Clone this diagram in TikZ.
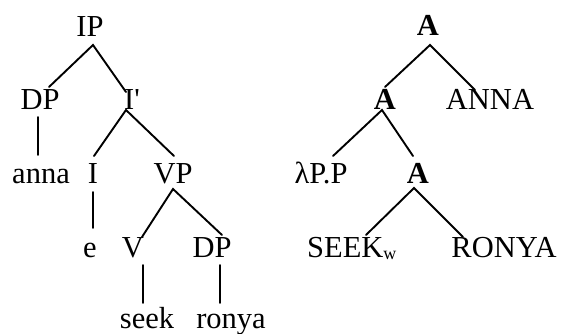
\documentclass[tikz,border=0pt]{standalone}
\usepackage{fontspec}
\newfontfamily\lsr{Liberation Serif}
\usetikzlibrary{calc}
\tikzset{
  lab/.style={inner sep=0pt, anchor=base, font=\lsr\fontsize{30.5}{30.5}\selectfont},
  br/.style={line width=1.9pt, line cap=round},
}
\begin{document}
\begin{tikzpicture}[x=1pt,y=-1pt]
\useasboundingbox (0,0) rectangle (565,334);
% left tree
\node[lab] (IP) at (90,37) {IP};
\node[lab] (DP) at (40,110) {DP};
\node[lab] (Ib) at (132,110) {I'};
\node[lab] (anna) at (41,183) {anna};
\node[lab] (I) at (93,183) {I};
\node[lab] (VP) at (173,183) {VP};
\node[lab] (e) at (90,257) {e};
\node[lab] (V) at (133,257) {V};
\node[lab] (DPb) at (212,257) {DP};
\node[lab] (seek) at (147,328) {seek};
\node[lab] (ronya) at (231,328) {ronya};
\draw[br] ($(DP.base)+(9,-23)$) -- ($(IP.base)+(3,8)$) -- ($(Ib.base)+(-6,-18)$);
\draw[br] ($(DP.base)+(-2,7)$) -- ($(anna.base)+(-3,-28)$);
\draw[br] ($(I.base)+(1,-27)$) -- ($(Ib.base)+(-6,0)$) -- ($(VP.base)+(1,-27)$);
\draw[br] ($(I.base)+(0,9)$) -- ($(e.base)+(3,-29)$);
\draw[br] ($(V.base)+(9,-20)$) -- ($(VP.base)+(0,6)$) -- ($(DPb.base)+(10,-22)$);
\draw[br] ($(V.base)+(10,8)$) -- ($(seek.base)+(-4,-25)$);
\draw[br] ($(DPb.base)+(8,8)$) -- ($(ronya.base)+(-11,-25)$);
% right tree
\node[lab] (A0) at (428,36) {\textbf{A}};
\node[lab] (A1) at (385,110) {\textbf{A}};
\node[lab] (ANNA) at (490,110) {ANNA};
\node[lab] (lam) at (321,183) {λP.P};
\node[lab] (A2) at (418,183) {\textbf{A}};
\node[lab, anchor=base west] (SEEK) at (307,257) {SEEK\raisebox{-2pt}{\fontsize{18}{18}\selectfont w}};
\node[lab] (RONYA) at (504,257) {RONYA};
\draw[br] ($(A1.base)+(0,-23)$) -- ($(A0.base)+(2,9)$) -- ($(ANNA.base)+(-15,-20)$);
\draw[br] ($(lam.base)+(12,-27)$) -- ($(A1.base)+(-3,0)$) -- ($(A2.base)+(-5,-27)$);
\draw[br] ($(SEEK.base west)+(59,-22)$) -- ($(A2.base)+(-4,5)$) -- ($(RONYA.base)+(-41,-20)$);
\end{tikzpicture}
\end{document}
